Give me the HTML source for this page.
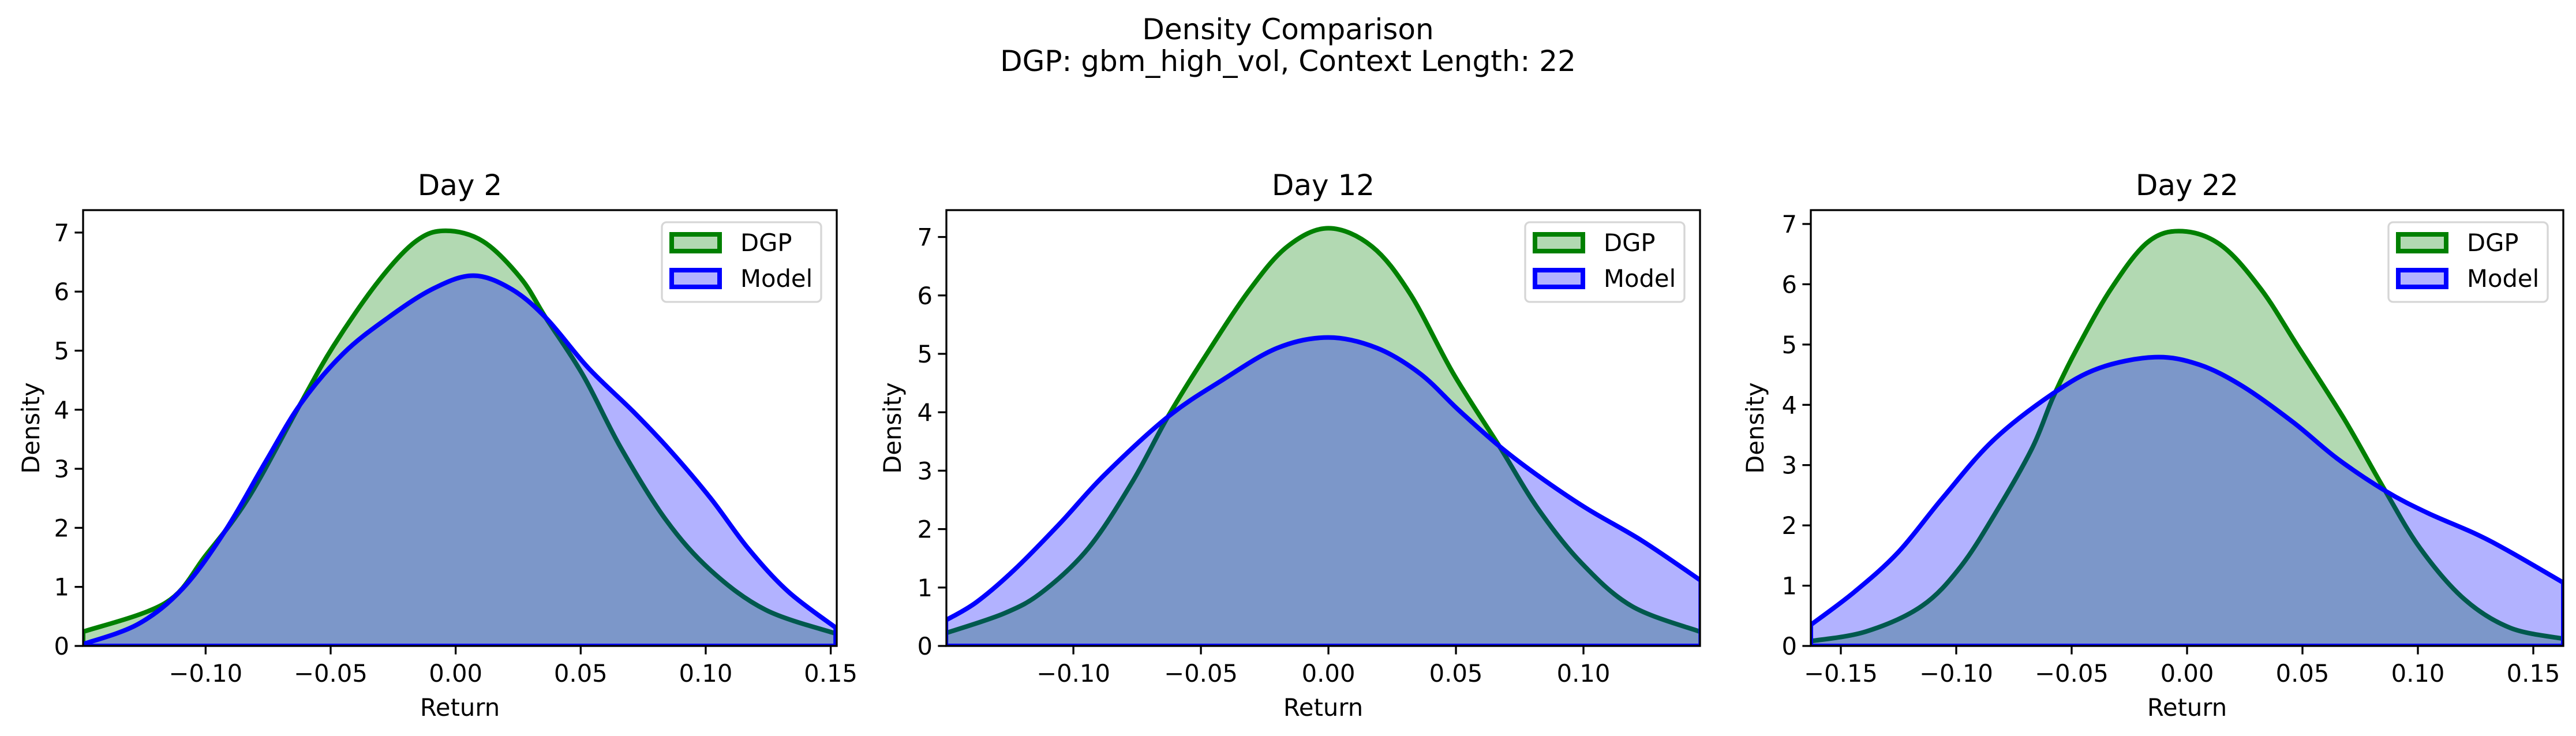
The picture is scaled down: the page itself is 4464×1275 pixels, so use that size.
<!DOCTYPE html>
<html><head><meta charset="utf-8">
<style>
html,body{margin:0;padding:0;background:#fff;}
svg{display:block;font-family:"DejaVu Sans","Liberation Sans",sans-serif;}
</style></head>
<body>
<svg id="fig" width="4464" height="1275" viewBox="0 0 4464 1275" xmlns="http://www.w3.org/2000/svg">
<rect width="4464" height="1275" fill="#fff"/>
<text x="2232" y="68" font-size="50" text-anchor="middle">Density Comparison</text>
<text x="2232" y="123" font-size="50" text-anchor="middle">DGP: gbm_high_vol, Context Length: 22</text>
</svg>
<script>
const panelTitles = ["Day 2","Day 12","Day 22"];
const xTicks1 = [-0.10,-0.05,0.00,0.05,0.10,0.15];
const xTicks2 = [-0.10,-0.05,0.00,0.05,0.10];
const xTicks3 = [-0.15,-0.10,-0.05,0.00,0.05,0.10,0.15];
const yTicks = [0,1,2,3,4,5,6,7];
const dgpX1 = [-0.149,-0.116,-0.100,-0.083,-0.063,-0.049,-0.031,-0.016,-0.004,0.011,0.026,0.036,0.051,0.066,0.084,0.102,0.124,0.152];
const dgpY1 = [0.24,0.73,1.53,2.5,4.03,5.07,6.17,6.85,7.03,6.85,6.23,5.56,4.58,3.36,2.14,1.28,0.61,0.21];
const modX1 = [-0.149,-0.127,-0.109,-0.092,-0.076,-0.062,-0.045,-0.027,-0.009,0.007,0.022,0.036,0.053,0.071,0.086,0.102,0.117,0.133,0.152];
const modY1 = [0.03,0.37,0.98,1.96,3.12,4.1,4.95,5.56,6.05,6.27,6.05,5.56,4.71,3.97,3.3,2.5,1.65,0.92,0.31];
const dgpX2 = [-0.150,-0.127,-0.112,-0.094,-0.077,-0.063,-0.049,-0.031,-0.016,0,0.017,0.032,0.049,0.067,0.082,0.099,0.119,0.146];
const dgpY2 = [0.22,0.56,0.93,1.68,2.8,3.92,4.91,6.09,6.84,7.15,6.84,6.03,4.66,3.42,2.36,1.43,0.68,0.24];
const modX2 = [-0.150,-0.138,-0.123,-0.105,-0.088,-0.063,-0.042,-0.020,0,0.019,0.036,0.051,0.067,0.082,0.101,0.123,0.146];
const modY2 = [0.44,0.75,1.31,2.11,2.92,3.92,4.54,5.1,5.28,5.1,4.66,4.04,3.42,2.92,2.36,1.8,1.12];
const dgpX3 = [-0.163,-0.139,-0.115,-0.098,-0.082,-0.067,-0.058,-0.048,-0.033,-0.017,-0.002,0.015,0.032,0.048,0.068,0.085,0.101,0.120,0.140,0.163];
const dgpY3 = [0.08,0.24,0.66,1.32,2.27,3.29,4.13,4.91,5.92,6.7,6.88,6.64,5.92,4.97,3.77,2.63,1.62,0.78,0.3,0.12];
const modX3 = [-0.163,-0.144,-0.125,-0.106,-0.084,-0.058,-0.038,-0.014,0.005,0.024,0.046,0.065,0.086,0.104,0.125,0.140,0.163];
const modY3 = [0.35,0.9,1.56,2.45,3.41,4.19,4.61,4.79,4.67,4.31,3.71,3.11,2.57,2.21,1.86,1.56,1.05];

const panels = [
 {title:panelTitles[0],L:144,R:1450,T:364,B:1119,x0:-0.149,x1:0.1524,ymax:7.38,ticks:xTicks1,dx:dgpX1,dy:dgpY1,mx:modX1,my:modY1,yo:76},
 {title:panelTitles[1],L:1640,R:2946,T:364,B:1119,x0:-0.1498,x1:0.1457,ymax:7.46,ticks:xTicks2,dx:dgpX2,dy:dgpY2,mx:modX2,my:modY2,yo:79},
 {title:panelTitles[2],L:3138,R:4442,T:364,B:1119,x0:-0.163,x1:0.163,ymax:7.23,ticks:xTicks3,dx:dgpX3,dy:dgpY3,mx:modX3,my:modY3,yo:82}
];
const NS="http://www.w3.org/2000/svg";
const svg=document.getElementById('fig');
function mk(tag,attrs,parent){const e=document.createElementNS(NS,tag);for(const k in attrs)e.setAttribute(k,attrs[k]);(parent||svg).appendChild(e);return e;}
function fmt(v){const s=Math.abs(v).toFixed(2);return (v<-1e-9?"\u2212":"")+s;}
function smooth(pts){let d="M"+pts[0][0]+","+pts[0][1];for(let i=0;i<pts.length-1;i++){const p0=pts[Math.max(0,i-1)],p1=pts[i],p2=pts[i+1],p3=pts[Math.min(pts.length-1,i+2)];const c1x=p1[0]+(p2[0]-p0[0])/6,c1y=p1[1]+(p2[1]-p0[1])/6,c2x=p2[0]-(p3[0]-p1[0])/6,c2y=p2[1]-(p3[1]-p1[1])/6;d+=" C"+c1x+","+c1y+" "+c2x+","+c2y+" "+p2[0]+","+p2[1];}return d;}
panels.forEach((p,i)=>{
 const sx=v=>p.L+(v-p.x0)/(p.x1-p.x0)*(p.R-p.L);
 const sy=v=>p.B-v/p.ymax*(p.B-p.T);
 const g=mk('g',{});
 
 
 const cp=mk('clipPath',{id:'clip'+i},g);mk('rect',{x:p.L,y:p.T,width:p.R-p.L,height:p.B-p.T},cp);
 const series=[[p.dx,p.dy,'#008000','dgp'],[p.mx,p.my,'#0000ff','model']];
 series.forEach(s=>{
  const pts=s[0].map((x,k)=>[sx(x),sy(s[1][k])]);
  const d=smooth(pts)+" L"+pts[pts.length-1][0]+","+sy(0)+" L"+pts[0][0]+","+sy(0)+" Z";
  const f=mk('path',{d:d,fill:s[2],'fill-opacity':0.3,stroke:'none','clip-path':'url(#clip'+i+')'},g);
  
  
  const l=mk('path',{d:d,fill:'none',stroke:s[2],'stroke-width':8,'stroke-linejoin':'round','clip-path':'url(#clip'+i+')'},g);
  
  
 });
 const fr=mk('rect',{x:p.L,y:p.T,width:p.R-p.L,height:p.B-p.T,fill:'none',stroke:'#000','stroke-width':3.3},g);
 
 
 p.ticks.forEach(t=>{const x=sx(t);mk('line',{x1:x,x2:x,y1:p.B,y2:p.B+14.6,stroke:'#000','stroke-width':3.3},g);
  const tx=mk('text',{x:x,y:1181,'font-size':41.7,'text-anchor':'middle'},g);tx.textContent=fmt(t);
  
  });
 yTicks.forEach(t=>{const y=sy(t);mk('line',{x1:p.L-14.6,x2:p.L,y1:y,y2:y,stroke:'#000','stroke-width':3.3},g);
  const tx=mk('text',{x:p.L-24,y:y+15,'font-size':41.7,'text-anchor':'end'},g);tx.textContent=t;
  
  });
 const tt=mk('text',{x:(p.L+p.R)/2,y:338,'font-size':50,'text-anchor':'middle'},g);tt.textContent=p.title;
 
 
 const xl=mk('text',{x:(p.L+p.R)/2,y:1240,'font-size':41.7,'text-anchor':'middle'},g);xl.textContent='Return';
 
 
 const yx=p.L-p.yo;
 const yl=mk('text',{x:yx,y:(p.T+p.B)/2,'font-size':41.7,'text-anchor':'middle',transform:'rotate(-90 '+yx+' '+(p.T+p.B)/2+')'},g);yl.textContent='Density';
 
 
 const lg=mk('g',{},g);
 
 
 const lx=p.R-303;
 mk('rect',{x:lx,y:385,width:276,height:138,rx:8,fill:'#fff','fill-opacity':0.8,stroke:'#d6d6d6','stroke-width':3.3},lg);
 [['DGP','#008000',402],['Model','#0000ff',464]].forEach(e=>{
  const r=mk('rect',{x:lx+17,y:e[2]+4,width:83,height:29,fill:e[1],'fill-opacity':0.3,stroke:e[1],'stroke-width':8},lg);
  
  
  const t=mk('text',{x:lx+136,y:e[2]+33,'font-size':41.7},lg);t.textContent=e[0];
  
  
 });
});
</script>
</body></html>
